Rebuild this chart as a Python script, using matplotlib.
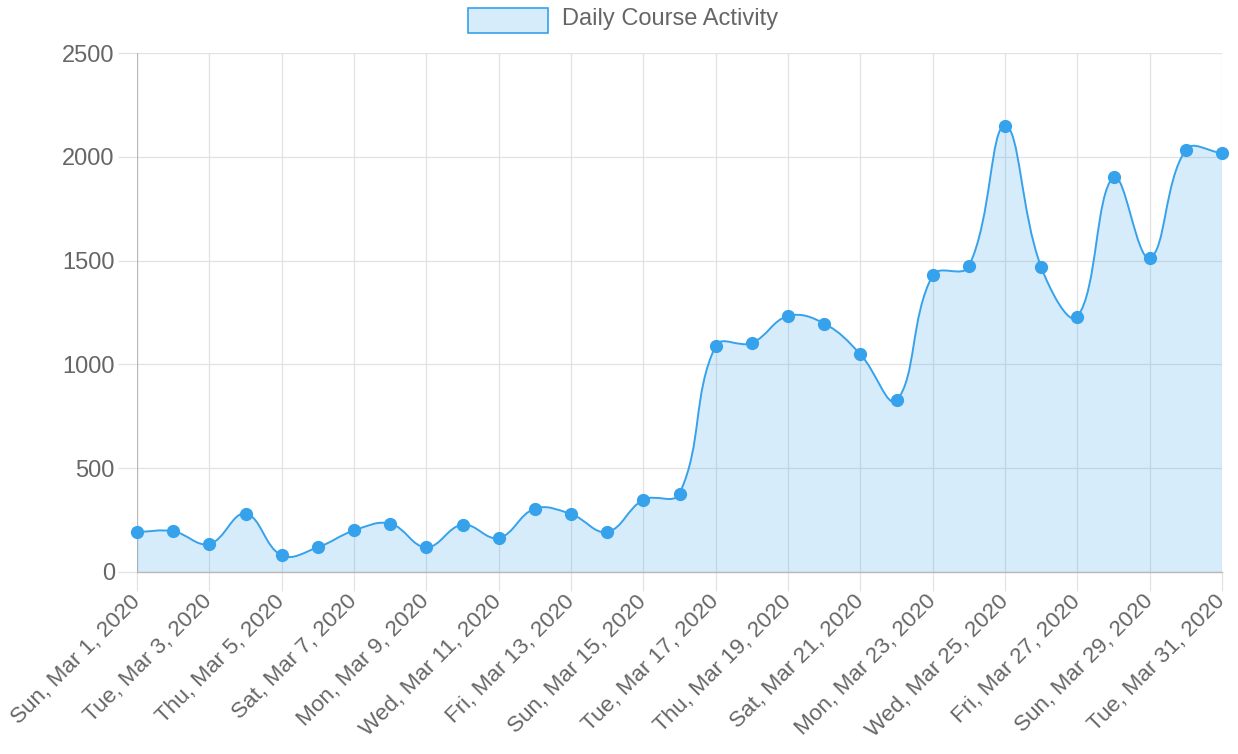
import numpy as np
import pandas as pd
import matplotlib
matplotlib.use('Agg')
import matplotlib.pyplot as plt
from matplotlib.path import Path
from matplotlib.patches import PathPatch, Rectangle

plt.rcParams['font.family'] = ['Liberation Sans', 'DejaVu Sans']

# data
days = pd.date_range('2020-03-01', '2020-03-31', freq='D')
day_labels = [f"{d.strftime('%a')}, {d.strftime('%b')} {d.day}, {d.year}" for d in days]
activity = [193, 196, 135, 281, 80, 119, 200, 233, 119,
            228, 164, 305, 279, 193, 348, 378,
            1089, 1103, 1233, 1197, 1049, 827,
            1429, 1472, 2150, 1469, 1230, 1901, 1513, 2034, 2018]
series_name = 'Daily Course Activity'
y_ticks = [0, 500, 1000, 1500, 2000, 2500]

line_col = (54/255, 162/255, 235/255)
fill_col = (54/255, 162/255, 235/255, 0.2)
grid_col = '#e2e2e2'
zero_col = '#b8b8b8'
text_col = '#666666'

W, H = 1238, 754
fig = plt.figure(figsize=(W/100, H/100), dpi=100)
left, right, top, bottom = 137, 1222, 53, 572
ax = fig.add_axes([left/W, (H-bottom)/H, (right-left)/W, (bottom-top)/H])

x = np.arange(len(activity))
y = np.array(activity, dtype=float)
ax.set_xlim(0, len(activity)-1)
ax.set_ylim(0, 2500)

# chart.js-like spline (tension 0.4), computed in pixel space
sx = (right-left)/(len(activity)-1)
sy = (bottom-top)/2500
px, py = x*sx, y*sy
t = 0.4
cp_prev, cp_next = [], []
for i in range(len(px)):
    ip = max(i-1, 0)
    iN = min(i+1, len(px)-1)
    d01 = np.hypot(px[i]-px[ip], py[i]-py[ip])
    d12 = np.hypot(px[iN]-px[i], py[iN]-py[i])
    tot = d01 + d12
    s01 = d01/tot if tot else 0
    s12 = d12/tot if tot else 0
    fa, fb = t*s01, t*s12
    cp_prev.append((px[i]-fa*(px[iN]-px[ip]), np.clip(py[i]-fa*(py[iN]-py[ip]), 0, 2500*sy)))
    cp_next.append((px[i]+fb*(px[iN]-px[ip]), np.clip(py[i]+fb*(py[iN]-py[ip]), 0, 2500*sy)))

verts = [(x[0], y[0])]
codes = [Path.MOVETO]
for i in range(len(px)-1):
    verts += [(cp_next[i][0]/sx, cp_next[i][1]/sy),
              (cp_prev[i+1][0]/sx, cp_prev[i+1][1]/sy),
              (x[i+1], y[i+1])]
    codes += [Path.CURVE4]*3
line_path = Path(verts, codes)
fill_path = Path(verts + [(x[-1], 0), (x[0], 0), (x[0], y[0])],
                 codes + [Path.LINETO, Path.LINETO, Path.CLOSEPOLY])

ax.add_patch(PathPatch(fill_path, facecolor=fill_col, edgecolor='none', zorder=2))
ax.add_patch(PathPatch(line_path, facecolor='none', edgecolor=line_col, lw=1.4, zorder=3))
ax.plot(x, y, 'o', color=line_col, markersize=8.5, zorder=4, clip_on=False)

# grid and ticks
ax.set_xticks(x[::2])
ax.set_xticklabels(day_labels[::2], rotation=45, ha='right', va='center',
                   rotation_mode='anchor')
ax.set_yticks(y_ticks)
ax.set_yticklabels([str(v) for v in y_ticks])
ax.grid(True, color=grid_col, lw=0.9, zorder=0)
ax.set_axisbelow(True)
ax.tick_params(axis='both', length=14, width=0.9, color=grid_col,
               labelcolor=text_col, labelsize=17, pad=2)
ax.tick_params(axis='x', pad=5, labelsize=16.2)
for s in ax.spines.values():
    s.set_visible(False)
ax.axhline(0, color=zero_col, lw=1.0, zorder=2.5, clip_on=False)
ax.axvline(0, color=zero_col, lw=0.9, zorder=1)

# legend drawn like chart.js
fig.patches.append(Rectangle((468/W, 1-33/H), 80/W, 25/H, transform=fig.transFigure,
                             facecolor=fill_col, edgecolor=line_col, lw=1.2))
fig.text(562/W, 1-19/H, series_name, color=text_col, fontsize=17, va='center', ha='left')

fig.savefig('out.png', dpi=100)
